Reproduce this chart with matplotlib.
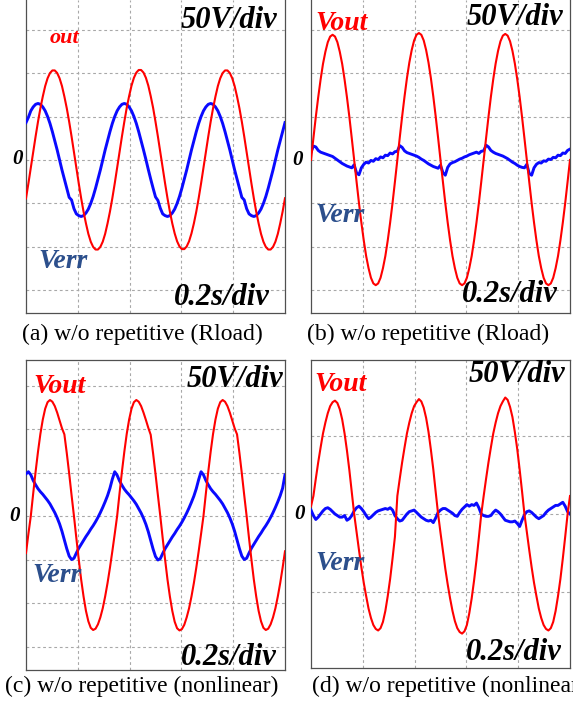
import numpy as np
import matplotlib.pyplot as plt

W, H = 573, 707
SERIF = ['Liberation Serif', 'DejaVu Serif']

# sample times, in divisions (5 div across the screen)
t = np.linspace(0, 5, 109)

red_a = ([-0.88, -0.54, -0.18, 0.18, 0.54, 0.88, 1.19, 1.46, 1.70, 1.88, 2.00, 2.06, 2.06, 2.00, 1.88, 1.70, 1.46, 1.19,
          0.88, 0.54, 0.18, -0.18, -0.54, -0.88, -1.19, -1.46, -1.70, -1.88, -2.00, -2.06, -2.06, -2.00, -1.88, -1.70, -1.46, -1.19]
         + [-0.88, -0.54, -0.18, 0.18, 0.54, 0.88, 1.20, 1.47, 1.71, 1.89, 2.01, 2.07, 2.07, 2.01, 1.89, 1.71, 1.47, 1.20,
            0.88, 0.54, 0.18, -0.18, -0.54, -0.88, -1.19, -1.46, -1.69, -1.87, -1.99, -2.05, -2.05, -1.99, -1.87, -1.69, -1.46, -1.19]
         + [-0.88, -0.54, -0.18, 0.18, 0.54, 0.88, 1.19, 1.46, 1.70, 1.88, 2.00, 2.06, 2.06, 2.00, 1.88, 1.70, 1.46, 1.19,
            0.88, 0.54, 0.18, -0.18, -0.54, -0.88, -1.19, -1.46, -1.70, -1.88, -2.00, -2.06, -2.06, -2.00, -1.88, -1.70, -1.46, -1.19]
         + [-0.88])
blue_a = ([0.86, 0.98, 1.13, 1.22, 1.28, 1.30, 1.28, 1.22, 1.13, 1.00, 0.84, 0.65, 0.44, 0.23, 0.00, -0.23, -0.44, -0.65,
           -0.86, -0.92, -1.12, -1.24, -1.28, -1.30, -1.28, -1.22, -1.13, -1.00, -0.84, -0.65, -0.44, -0.23, 0.00, 0.23, 0.44, 0.65]
          + [0.84, 1.00, 1.13, 1.22, 1.28, 1.30, 1.28, 1.22, 1.13, 1.00, 0.84, 0.65, 0.44, 0.23, 0.01, -0.22, -0.44, -0.65,
             -0.85, -0.93, -1.11, -1.24, -1.28, -1.30, -1.28, -1.22, -1.13, -1.00, -0.84, -0.65, -0.44, -0.23, 0.00, 0.23, 0.44, 0.65]
          + [0.84, 1.00, 1.13, 1.22, 1.28, 1.30, 1.28, 1.22, 1.13, 1.00, 0.84, 0.65, 0.44, 0.23, 0.00, -0.23, -0.44, -0.65,
             -0.86, -0.92, -1.12, -1.24, -1.28, -1.30, -1.28, -1.22, -1.13, -1.00, -0.84, -0.65, -0.44, -0.23, 0.00, 0.23, 0.44, 0.65]
          + [0.86])

red_b = ([0.00, 0.50, 0.99, 1.44, 1.85, 2.21, 2.49, 2.71, 2.84, 2.88, 2.84, 2.71, 2.49, 2.21, 1.85, 1.44, 0.99, 0.50,
          0.00, -0.50, -0.99, -1.44, -1.85, -2.21, -2.49, -2.71, -2.84, -2.88, -2.84, -2.71, -2.49, -2.21, -1.85, -1.44, -0.99, -0.50]
         + [0.00, 0.51, 1.00, 1.46, 1.88, 2.24, 2.53, 2.75, 2.88, 2.92, 2.88, 2.75, 2.53, 2.24, 1.88, 1.46, 1.00, 0.51,
            0.00, -0.50, -0.99, -1.44, -1.85, -2.21, -2.49, -2.71, -2.84, -2.88, -2.84, -2.71, -2.49, -2.21, -1.85, -1.44, -0.99, -0.50]
         + [0.00, 0.50, 0.99, 1.45, 1.86, 2.22, 2.51, 2.73, 2.86, 2.90, 2.86, 2.73, 2.51, 2.22, 1.86, 1.45, 0.99, 0.50,
            0.00, -0.50, -0.99, -1.44, -1.85, -2.21, -2.49, -2.71, -2.84, -2.88, -2.84, -2.71, -2.49, -2.21, -1.85, -1.44, -0.99, -0.50]
         + [0.00])
blue_b = ([0.18, 0.32, 0.30, 0.22, 0.18, 0.16, 0.14, 0.12, 0.10, 0.08, 0.04, 0.00, -0.04, -0.08, -0.11, -0.14, -0.16, -0.18,
           -0.11, -0.30, -0.34, -0.18, -0.10, -0.05, -0.07, -0.01, -0.03, 0.03, 0.01, 0.07, 0.05, 0.11, 0.10, 0.16, 0.14, 0.19]
          + [0.20, 0.33, 0.29, 0.21, 0.17, 0.15, 0.13, 0.11, 0.09, 0.06, 0.02, -0.01, -0.05, -0.09, -0.12, -0.15, -0.17, -0.19,
             -0.12, -0.29, -0.35, -0.17, -0.09, -0.06, -0.04, -0.01, 0.02, 0.04, 0.07, 0.09, 0.12, 0.14, 0.16, 0.18, 0.15, 0.20]
          + [0.21, 0.34, 0.30, 0.22, 0.18, 0.15, 0.13, 0.11, 0.09, 0.06, 0.03, -0.01, -0.05, -0.08, -0.12, -0.15, -0.17, -0.18,
             -0.10, -0.31, -0.35, -0.18, -0.10, -0.06, -0.07, -0.02, -0.03, 0.02, 0.01, 0.06, 0.05, 0.11, 0.10, 0.16, 0.15, 0.22]
          + [0.25])

red_c = ([-0.85, -0.41, 0.00, 0.52, 1.02, 1.48, 1.89, 2.22, 2.47, 2.62, 2.67, 2.63, 2.53, 2.38, 2.20, 2.02, 1.88, 1.45,
          0.98, 0.48, 0.00, -0.51, -1.00, -1.46, -1.85, -2.18, -2.42, -2.57, -2.62, -2.59, -2.49, -2.33, -2.12, -1.85, -1.54, -1.19]
         + [-0.81, -0.41, 0.00, 0.52, 1.02, 1.48, 1.89, 2.22, 2.47, 2.62, 2.67, 2.63, 2.53, 2.38, 2.21, 2.03, 1.87, 1.44,
            0.97, 0.48, 0.00, -0.51, -1.00, -1.46, -1.85, -2.18, -2.43, -2.58, -2.63, -2.60, -2.50, -2.33, -2.12, -1.85, -1.54, -1.19]
         + [-0.81, -0.41, 0.00, 0.52, 1.02, 1.48, 1.89, 2.22, 2.47, 2.62, 2.67, 2.63, 2.53, 2.38, 2.20, 2.02, 1.88, 1.45,
            0.98, 0.48, 0.00, -0.51, -1.00, -1.46, -1.85, -2.18, -2.42, -2.57, -2.62, -2.59, -2.49, -2.33, -2.12, -1.85, -1.54, -1.19]
         + [-0.81])
blue_c = ([0.97]
          + [1.02, 0.95, 0.82, 0.72, 0.63, 0.56, 0.50, 0.43, 0.36, 0.28, 0.18, 0.08, -0.04, -0.18, -0.35, -0.55, -0.75, -0.92,
             -1.00, -0.97, -0.85, -0.74, -0.65, -0.56, -0.47, -0.39, -0.30, -0.22, -0.13, -0.03, 0.08, 0.20, 0.33, 0.47, 0.64, 0.85]
          + [1.02, 0.94, 0.81, 0.71, 0.62, 0.55, 0.49, 0.42, 0.35, 0.27, 0.17, 0.07, -0.05, -0.19, -0.36, -0.56, -0.76, -0.93,
             -1.01, -0.98, -0.86, -0.75, -0.66, -0.57, -0.48, -0.40, -0.31, -0.23, -0.14, -0.04, 0.07, 0.19, 0.32, 0.46, 0.63, 0.84]
          + [1.02, 0.95, 0.82, 0.72, 0.63, 0.56, 0.50, 0.43, 0.36, 0.28, 0.18, 0.08, -0.04, -0.18, -0.35, -0.55, -0.75, -0.92,
             -1.00, -0.97, -0.85, -0.74, -0.65, -0.56, -0.47, -0.39, -0.30, -0.22, -0.13, -0.03, 0.08, 0.20, 0.33, 0.47, 0.64, 0.95])

# panel (d) has a coarser vertical grid (4 div on screen)
red_d = ([0.10, 0.23, 0.45, 0.66, 0.85, 1.03, 1.17, 1.29, 1.38, 1.43, 1.45, 1.42, 1.34, 1.21, 1.03, 0.81, 0.56, 0.28,
          0.00, -0.23, -0.46, -0.68, -0.88, -1.05, -1.21, -1.33, -1.42, -1.47, -1.49, -1.46, -1.38, -1.24, -1.05, -0.83, -0.57, -0.29]
         + [0.23, 0.45, 0.66, 0.85, 1.03, 1.17, 1.29, 1.38, 1.43, 1.47, 1.44, 1.36, 1.23, 1.05, 0.82, 0.57, 0.28, 0.00,
            -0.24, -0.47, -0.70, -0.90, -1.08, -1.24, -1.37, -1.46, -1.51, -1.53, -1.50, -1.42, -1.27, -1.08, -0.85, -0.59, -0.30, 0.00]
         + [0.23, 0.45, 0.66, 0.85, 1.03, 1.17, 1.29, 1.38, 1.44, 1.49, 1.46, 1.37, 1.24, 1.05, 0.83, 0.57, 0.29, 0.00,
            -0.23, -0.46, -0.68, -0.88, -1.05, -1.21, -1.33, -1.42, -1.47, -1.49, -1.46, -1.38, -1.24, -1.05, -0.83, -0.57, -0.29, 0.00]
         + [0.23])
blue_d = [0.05, -0.02, -0.07, -0.04, 0.00, 0.04, 0.07, 0.08, 0.06, 0.03,
          0.00, -0.02, -0.04, -0.04, -0.02, -0.08, -0.06, -0.02, 0.04, 0.08,
          0.10, 0.07, 0.03, -0.02, -0.06, -0.04, -0.01, 0.02, 0.04, 0.05,
          0.06, 0.07, 0.06, 0.08, 0.05, -0.02, -0.06, -0.09, -0.08, -0.04,
          0.00, 0.03, 0.04, 0.05, 0.02, -0.01, -0.04, -0.06, -0.08, -0.09,
          -0.08, -0.11, -0.05, 0.02, 0.05, 0.07, 0.07, 0.05, 0.03, 0.01,
          -0.02, -0.03, 0.02, 0.06, 0.09, 0.12, 0.10, 0.12, 0.11, 0.14,
          0.08, 0.00, -0.02, -0.03, -0.03, -0.02, 0.02, 0.05, 0.03, 0.00,
          -0.04, -0.08, -0.09, -0.10, -0.10, -0.09, -0.12, -0.16, -0.08, -0.01,
          0.03, 0.04, 0.02, -0.01, -0.04, -0.06, -0.04, -0.02, 0.02, 0.05,
          0.07, 0.09, 0.11, 0.11, 0.13, 0.15, 0.10, 0.03, 0.00]

captions = ['(a) w/o repetitive (Rload)', '(b) w/o repetitive (Rload)',
            '(c) w/o repetitive (nonlinear)', '(d) w/o repetitive (nonlinear)']

RED = '#ff0000'
BLUE = '#0a0aff'
LABEL_BLUE = '#2c4f8c'

fig = plt.figure(figsize=(W / 100, H / 100), dpi=100)


def fx(x):
    return x / W


def fy(y):
    return 1 - y / H


def panel(left, top, bottom, ylim, hgrid, red, blue, top_spine=True):
    ax = fig.add_axes([fx(left), fy(bottom), 259 / W, (bottom - top) / H])
    ax.plot(t, blue, color=BLUE, lw=2.1, zorder=3)
    ax.plot(t, red, color=RED, lw=1.5, zorder=4)
    ax.set_xlim(0, 5)
    ax.set_ylim(*ylim)
    for x in [1, 2, 3, 4]:
        ax.axvline(x, color='#a8a8a8', lw=0.8, ls=(0, (2.5, 2.5)), zorder=1)
    for y in hgrid:
        ax.axhline(y, color='#a8a8a8', lw=0.8, ls=(0, (2.5, 2.5)), zorder=1)
    ax.set_xticks([])
    ax.set_yticks([])
    for name, sp in ax.spines.items():
        sp.set_color('#505050')
        sp.set_linewidth(0.9)
    if not top_spine:
        ax.spines['top'].set_visible(False)
    return ax


def bold(x, y, s, size, color='black', ha='left'):
    fig.text(fx(x), fy(y), s, fontsize=size, color=color, ha=ha, va='baseline',
             family=SERIF, fontweight='bold', fontstyle='italic')


grid7 = [-3, -2, -1, 0, 1, 2, 3]
panel(26, 0, 313, (-3.52, 3.68), grid7, red_a, blue_a, top_spine=False)
panel(311, 0, 313, (-3.52, 3.68), grid7, red_b, blue_b, top_spine=False)
panel(26, 360, 670, (-3.54, 3.59), grid7, red_c, blue_c)
panel(311, 360, 668, (-1.97, 1.97), [-1, 0, 1], red_d, blue_d)

# scale annotations
for x, y in [(277, 28), (563, 25), (283, 387), (565, 382)]:
    bold(x, y, '50V/div', 22, ha='right')
for x, y in [(270, 305), (558, 302), (277, 665), (562, 660)]:
    bold(x, y, '0.2s/div', 22, ha='right')
for x, y in [(18, 164), (298, 165), (15, 521), (300, 519)]:
    bold(x, y, '0', 15, ha='center')

# trace names
bold(50, 43, 'out', 16, color=RED)
for x, y in [(315, 30), (33, 393), (314, 391)]:
    bold(x, y, 'Vout', 20, color=RED)
for x, y in [(38, 268), (315, 222), (32, 582), (315, 570)]:
    bold(x, y, 'Verr', 20, color=LABEL_BLUE)

# captions (the last one runs off the right edge, as in the original)
for (x, y), s in zip([(22, 340), (307, 340), (5, 692), (312, 692)], captions):
    fig.text(fx(x), fy(y), s, fontsize=17, ha='left', va='baseline', family=SERIF)

fig.savefig('out.png', dpi=100)
